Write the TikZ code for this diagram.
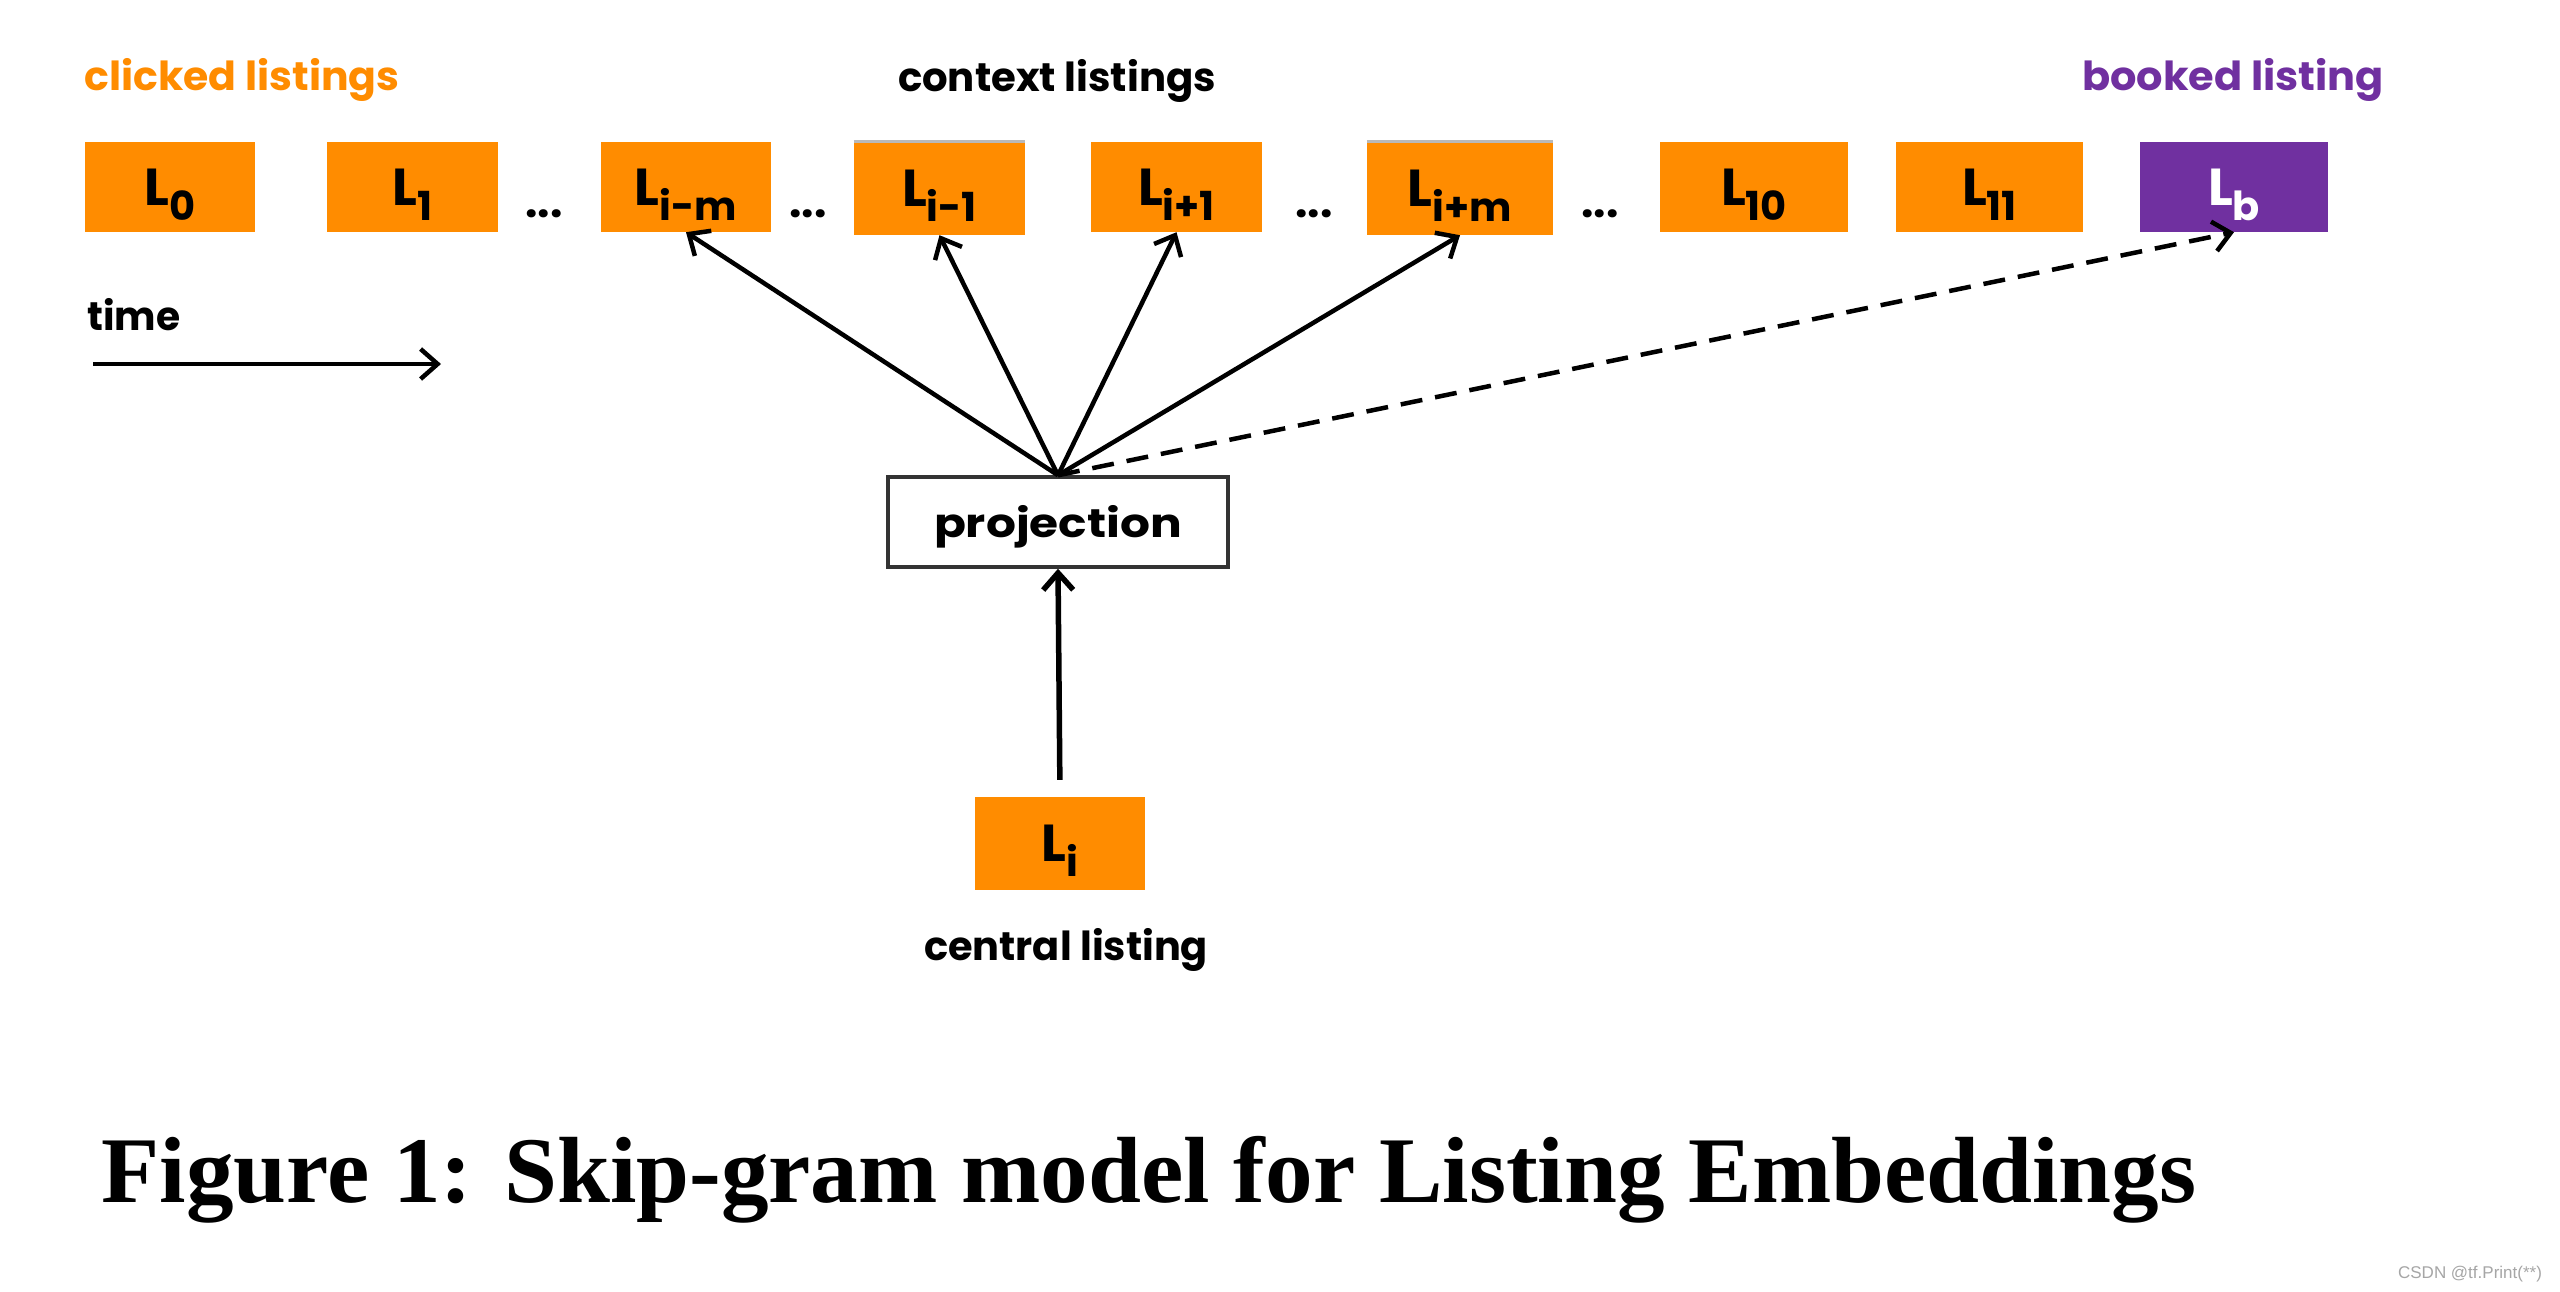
\documentclass[tikz,border=0pt]{standalone}
\usepackage{fontspec}
\usepackage{graphicx}
\usetikzlibrary{arrows.meta}
\newfontfamily\gfont{Poppins}
\newfontfamily\capfont{Liberation Serif}
\newfontfamily\wmfont{Liberation Sans}
\definecolor{lorange}{HTML}{FF8C00}
\definecolor{lpurple}{HTML}{7030A0}
\newcommand\Lsub[1]{L\smash{\raisebox{-15pt}{\fontsize{40}{40}\selectfont #1}}}
\begin{document}
\begin{tikzpicture}[x=1pt,y=-1pt,
  lbox/.style={rectangle, fill=lorange, minimum height=90pt, inner sep=0pt, font=\gfont\bfseries\fontsize{52}{52}\selectfont},
  bbox/.style={lbox, fill=lpurple, text=white},
  lab/.style={inner sep=0pt, font=\gfont\bfseries\fontsize{40}{40}\selectfont},
  con/.style={line width=4.5pt, -{Straight Barb[length=17pt,width=30pt]}},
  dotsnode/.style={inner sep=0pt, font=\gfont\bfseries\fontsize{44}{44}\selectfont},
  greyedge/.style={draw=gray!55, line width=3pt}]
\useasboundingbox[fill=white] (0,0) rectangle (2560,1291);

% top labels
\node[lab, text=lorange] (clk) at (242,80) {\resizebox{315pt}{\height}{clicked listings}};
\node[lab] (ctx) at (1057,81) {\resizebox{318pt}{\height}{context listings}};
\node[lab, text=lpurple] (bkd) at (2233,80) {\resizebox{302pt}{\height}{booked listing}};

% listing boxes
\node[lbox, minimum width=170pt] (L0) at (170,187) {\Lsub{0}};
\node[lbox, minimum width=171pt] (L1) at (412.5,187) {\Lsub{1}};
\node[lbox, minimum width=170pt] (Lim) at (686,187) {\Lsub{i-m}};
\node[lbox, minimum width=171pt, minimum height=93pt] (Lia) at (939.5,188.5) {\Lsub{i-1}};
\node[lbox, minimum width=171pt] (Lib) at (1176.5,187) {\Lsub{i+1}};
\node[lbox, minimum width=186pt, minimum height=93pt] (Lip) at (1460,188.5) {\Lsub{i+m}};
\node[lbox, minimum width=188pt] (L10) at (1754,187) {\Lsub{10}};
\node[lbox, minimum width=187pt] (L11) at (1989.5,187) {\Lsub{11}};
\node[bbox, minimum width=188pt] (Lb) at (2234,187) {\Lsub{b}};
\draw[greyedge] (Lia.north west) -- (Lia.north east);
\draw[greyedge] (Lip.north west) -- (Lip.north east);

% dots
\node[dotsnode] (d1) at (544,214) {...};
\node[dotsnode] (d2) at (808,214) {...};
\node[dotsnode] (d3) at (1314,214) {...};
\node[dotsnode] (d4) at (1600,214) {...};

% time
\node[lab, anchor=west] (time) at (87,315) {\resizebox{93pt}{\height}{time}};
\coordinate (t0) at (93,364);
\coordinate (t1) at (441,364);
\draw[con] (t0) -- (t1);

% projection
\node[draw=black!80, line width=3.5pt, fill=white, minimum width=340pt, minimum height=90pt, inner sep=0pt,
      text height=36pt, text depth=5pt,
      font=\gfont\bfseries\fontsize{40}{40}\selectfont] (proj) at (1058,522) {\resizebox{248pt}{\height}{projection}};

% central listing
\node[lbox, minimum width=170pt, minimum height=93pt] (Li) at (1060,843.5) {\Lsub{i}};
\node[lab] (cen) at (1066,950) {\resizebox{284pt}{\height}{central listing}};

% connectors
\draw[con, line width=5.5pt, shorten <=17pt] (Li.north) -- (proj.south);
\draw[con] (proj.north) -- (Lim.south);
\draw[con] (proj.north) -- (Lia.south);
\draw[con] (proj.north) -- (Lib.south);
\draw[con] (proj.north) -- (Lip.south);
\draw[con, dash pattern=on 22pt off 13pt] (proj.north) -- (Lb.south);

% caption
\node[inner sep=0pt, font=\capfont\bfseries\fontsize{94}{100}\selectfont] (cap) at (1149,1180)
  {\resizebox{2095pt}{\height}{Figure 1: Skip-gram model for Listing Embeddings}};

% watermark
\node[inner sep=0pt, text=gray!70, font=\wmfont\fontsize{17}{17}\selectfont] (wm) at (2470,1274) {CSDN @tf.Print(**)};
\end{tikzpicture}
\end{document}
